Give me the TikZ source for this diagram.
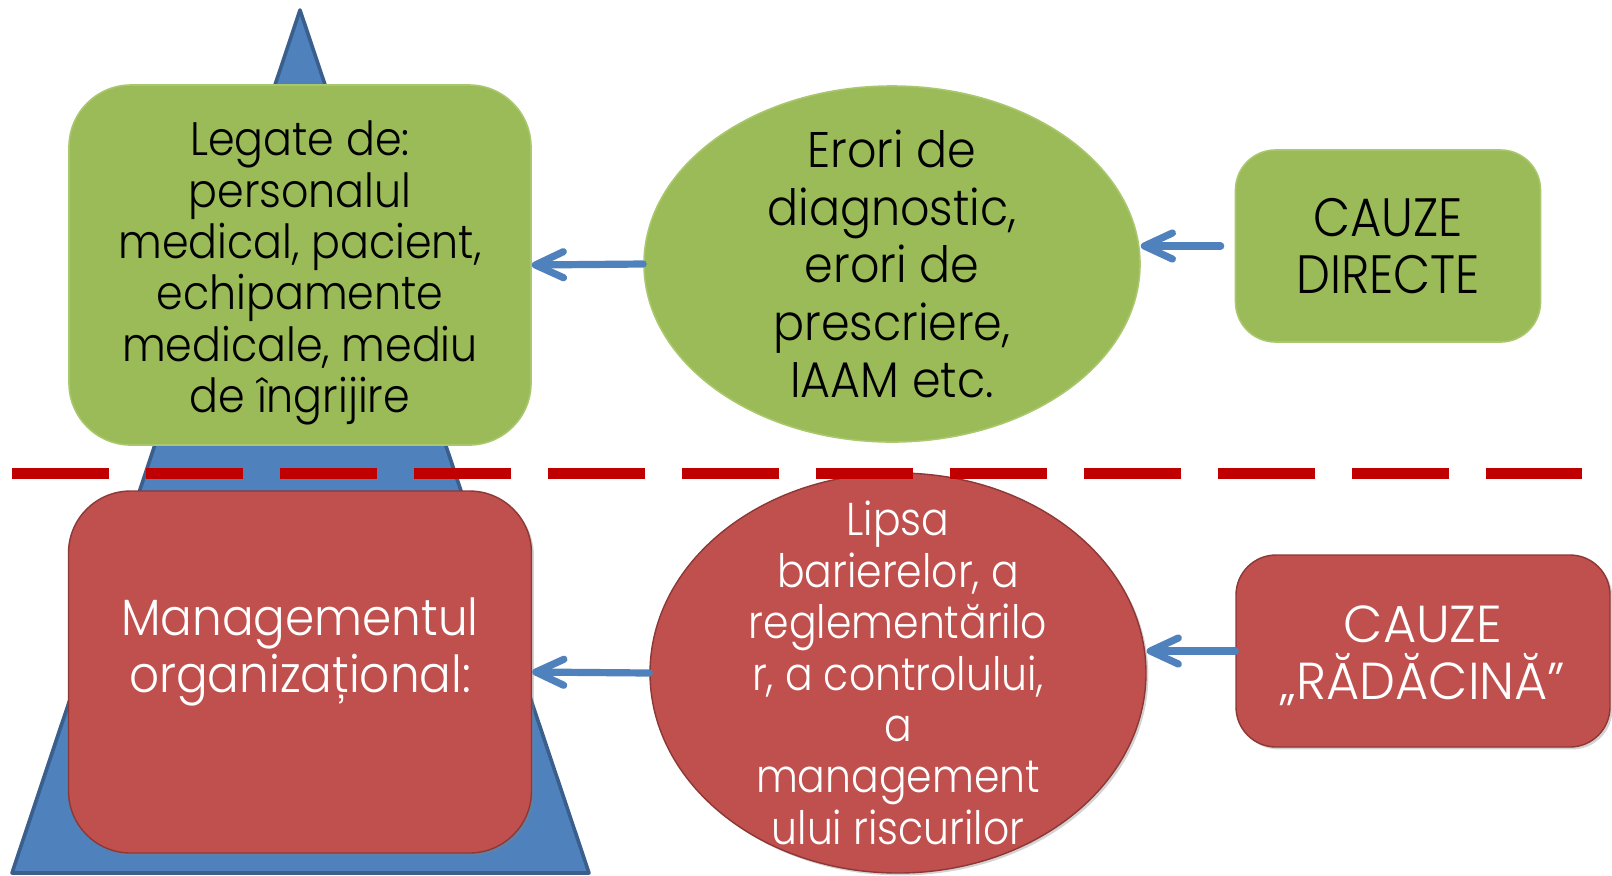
\documentclass[tikz,border=0pt]{standalone}
\usepackage{fontspec}
\setmainfont{Poppins}[UprightFont=* Light]
\newfontfamily\fontA{Poppins}[UprightFont=* Light, FakeStretch=0.91]
\newfontfamily\fontB{Poppins}[UprightFont=* Light, FakeStretch=0.92]
\newfontfamily\fontC{Poppins}[UprightFont=* Light, FakeStretch=0.89]
\newfontfamily\fontD{Poppins}[UprightFont=* Light, FakeStretch=0.98]
\usetikzlibrary{arrows.meta,shapes.geometric,shadows}
\definecolor{grn}{HTML}{9BBB59}
\definecolor{grnedge}{HTML}{A9C76C}
\definecolor{rd}{HTML}{C0504D}
\definecolor{rdedge}{HTML}{8C3836}
\definecolor{blu}{HTML}{4F81BD}
\definecolor{bluedge}{HTML}{3A5F8C}
\definecolor{dashred}{HTML}{C00000}
\begin{document}
\begin{tikzpicture}[x=0.5pt,y=-0.5pt,
  gshape/.style={fill=grn, draw=grnedge, line width=0.8pt, inner sep=0pt},
  rshape/.style={fill=rd, draw=rdedge, line width=0.7pt, inner sep=0pt,
     drop shadow={opacity=0.35, shadow xshift=1.2pt, shadow yshift=-1.2pt}},
  gtext/.style={inner sep=0pt, align=center, text=black},
  rtext/.style={inner sep=0pt, align=center, text=white},
  conn/.style={draw=blu, line width=3.6pt, line cap=round,
     -{Straight Barb[length=14pt, width=13pt, line cap=round, line join=round]}},
  pyramid/.style={fill=blu, draw=bluedge, line width=1.8pt, line join=round}
]
\useasboundingbox (0,0) rectangle (1612,875);

% pyramid
\path[pyramid] (300,10) -- (589,873) -- (12,873) -- cycle;

% upper (green) row
\node[gshape, rectangle, rounded corners=31pt, minimum width=231pt, minimum height=180pt] (gL) at (300,265) {};
\node[gshape, ellipse, minimum width=248pt, minimum height=178pt] (gE) at (892,264) {};
\node[gshape, rectangle, rounded corners=20pt, minimum width=152.5pt, minimum height=96pt] (gR) at (1388,246) {};

\node[gtext, font={\fontA\fontsize{23.5}{25.7}\selectfont}] (gLt) at ([yshift=-4pt]gL.center)
  {Legate de:\\personalul\\medical, pacient,\\echipamente\\medicale, mediu\\de îngrijire};
\node[gtext, font={\fontB\fontsize{25}{28.8}\selectfont}] (gEt) at (gE.center)
  {Erori de\\diagnostic,\\erori de\\prescriere,\\IAAM etc.};
\node[gtext, font={\fontC\fontsize{27}{28.8}\selectfont}] (gRt) at (gR.center)
  {CAUZE\\DIRECTE};

% lower (red) row
\node[rshape, rectangle, rounded corners=31pt, minimum width=231.5pt, minimum height=181pt] (rL) at (300,672) {};
\node[rshape, ellipse, minimum width=248pt, minimum height=200pt] (rE) at (898,673) {};
\node[rshape, rectangle, rounded corners=20pt, minimum width=187pt, minimum height=96pt] (rR) at (1423,651) {};

\node[rtext, font={\fontB\fontsize{25.5}{28.3}\selectfont}] (rLt) at ([yshift=-5pt]rL.center)
  {Managementul\\organizațional:\\\strut};
\node[rtext, font={\fontC\fontsize{23}{25.7}\selectfont}] (rEt) at (rE.center)
  {Lipsa\\barierelor, a\\reglementărilo\\r, a controlului,\\a\\management\\ului riscurilor};
\node[rtext, font={\fontD\fontsize{26}{28.5}\selectfont}] (rRt) at ([yshift=-2.5pt]rR.center)
  {CAUZE\\„RĂDĂCINĂ”};

% dashed separator
\coordinate (dl) at (12,473);
\coordinate (dr) at (1582,473);
\draw[dashred, line width=5.5pt, dash pattern=on 48.5pt off 18.5pt] (dl) -- (dr);

% connectors
\draw[conn, shorten <=7pt] (gR.west) -- (gR.west -| gE.east);
\draw[conn] (gE.west) -- (gL.east);
\draw[conn] (rR.west) -- (rR.west -| rE.east);
\draw[conn] (rE.west) -- (rL.east);
\end{tikzpicture}
\end{document}
